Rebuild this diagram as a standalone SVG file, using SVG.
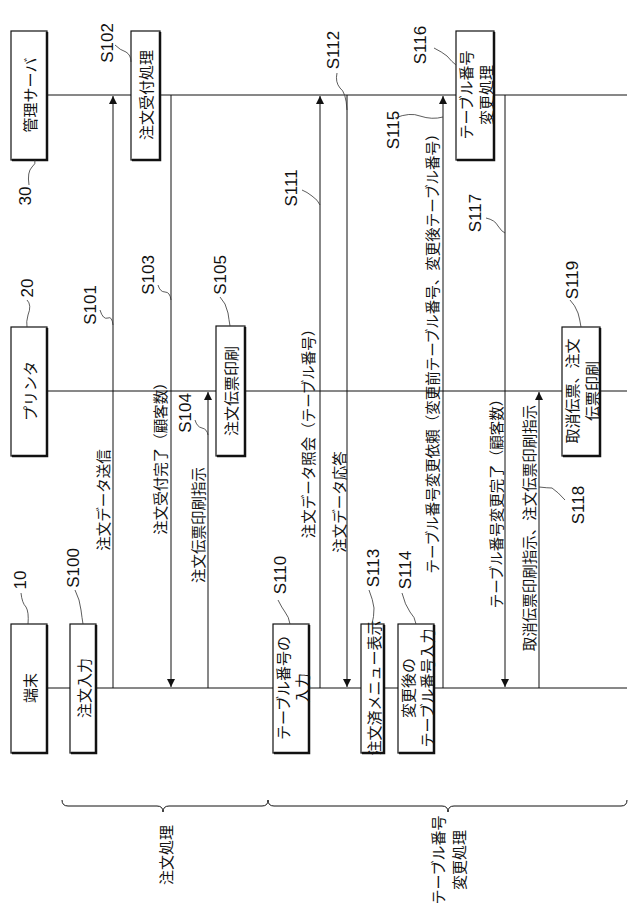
<svg xmlns="http://www.w3.org/2000/svg" width="640" height="924" viewBox="0 0 640 924">
<style>
text{font-family:"Noto Sans CJK JP","Liberation Sans",sans-serif;fill:#111;text-anchor:middle;dominant-baseline:central}
.s{font-family:"Liberation Sans",Arial,sans-serif;font-size:17px}
.b{font-size:15px}
.m{font-size:14.5px}
.box{fill:#fff;stroke:#111;stroke-width:1.2}
.sh{fill:none;stroke:#111;stroke-width:2.5}
.ln{stroke:#111;stroke-width:1;fill:none}
.ld{stroke:#333;stroke-width:0.8;fill:none}
</style>
<defs>
<marker id="ah" markerWidth="8" markerHeight="10" refX="8" refY="5" orient="auto" markerUnits="userSpaceOnUse"><path d="M0,1 L8,5 L0,9 Z" fill="#111"/></marker>
</defs>
<rect width="640" height="924" fill="#fff"/>
<g id="lifelines">
<line class="ln" x1="47" y1="95" x2="627" y2="95"/>
<line class="ln" x1="47" y1="391" x2="627" y2="391"/>
<line class="ln" x1="47" y1="688" x2="627" y2="688"/>
</g>
<g id="connectors">
<line class="ln" x1="113" y1="688" x2="113" y2="96" marker-end="url(#ah)"/>
<line class="ln" x1="171" y1="95" x2="171" y2="687" marker-end="url(#ah)"/>
<line class="ln" x1="208" y1="688" x2="208" y2="392" marker-end="url(#ah)"/>
<line class="ln" x1="320" y1="688" x2="320" y2="96" marker-end="url(#ah)"/>
<line class="ln" x1="347" y1="95" x2="347" y2="687" marker-end="url(#ah)"/>
<line class="ln" x1="443" y1="688" x2="443" y2="96" marker-end="url(#ah)"/>
<line class="ln" x1="505" y1="95" x2="505" y2="687" marker-end="url(#ah)"/>
<line class="ln" x1="539" y1="688" x2="539" y2="392" marker-end="url(#ah)"/>
<text class="m" transform="translate(102,500) rotate(-90)">注文データ送信</text>
<text class="m" transform="translate(159,455) rotate(-90)">注文受付完了（顧客数）</text>
<text class="m" transform="translate(197,525) rotate(-90)">注文伝票印刷指示</text>
<text class="m" transform="translate(307,430) rotate(-90)">注文データ照会（テーブル番号）</text>
<text class="m" transform="translate(338,502) rotate(-90)">注文データ応答</text>
<text class="m" transform="translate(431,350) rotate(-90)">テーブル番号変更依頼（変更前テーブル番号、変更後テーブル番号）</text>
<text class="m" transform="translate(495,500) rotate(-90)">テーブル番号変更完了（顧客数）</text>
<text class="m" transform="translate(528,528) rotate(-90)">取消伝票印刷指示、注文伝票印刷指示</text>
<path class="ld" d="M100,310 Q103,320 108,318 Q112,316 113,325"/>
<text class="s" transform="translate(90,305) rotate(-90)">S101</text>
<path class="ld" d="M158,285 Q160,292 165,292 Q170,292 171,300"/>
<text class="s" transform="translate(148,275) rotate(-90)">S103</text>
<path class="ld" d="M195,420 Q197,427 202,428 Q207,429 208,435"/>
<text class="s" transform="translate(185,413) rotate(-90)">S104</text>
<path class="ld" d="M302,190 Q307,192 312,196 Q318,200 320,205"/>
<text class="s" transform="translate(291,188) rotate(-90)">S111</text>
<path class="ld" d="M337,73 Q335,82 340,88 Q346,92 347,110"/>
<text class="s" transform="translate(333,50) rotate(-90)">S112</text>
<path class="ld" d="M395,118 Q410,112 420,116 Q432,120 443,117"/>
<text class="s" transform="translate(393,130) rotate(-90)">S115</text>
<path class="ld" d="M486,218 Q495,220 498,226 Q502,232 505,233"/>
<text class="s" transform="translate(475,213) rotate(-90)">S117</text>
<path class="ld" d="M539,487 Q548,488 552,488 Q558,492 565,500"/>
<text class="s" transform="translate(578,505) rotate(-90)">S118</text>
</g>
<g id="n30"><rect class="box" x="11" y="31" width="36" height="129"/><path class="sh" d="M47,32 V160 H12"/><text class="b" transform="translate(29,95) rotate(-90)">管理サーバ</text>
<path class="ld" d="M29,185 Q27,172 32,167 Q36,164 35,160"/><text class="s" transform="translate(25,196) rotate(-90)">30</text></g>
<g id="n20"><rect class="box" x="11" y="327" width="36" height="129"/><path class="sh" d="M47,328 V456 H12"/><text class="b" transform="translate(29,391) rotate(-90)">プリンタ</text>
<path class="ld" d="M27,300 Q32,305 28,315 Q26,322 27,327"/><text class="s" transform="translate(27,288) rotate(-90)">20</text></g>
<g id="n10"><rect class="box" x="11" y="624" width="36" height="129"/><path class="sh" d="M47,625 V753 H12"/><text class="b" transform="translate(29,688) rotate(-90)">端末</text>
<path class="ld" d="M21,593 Q22,603 26,607 Q29,612 28,624"/><text class="s" transform="translate(20,580) rotate(-90)">10</text></g>
<g id="S102"><rect class="box" x="131" y="31" width="29" height="129"/><path class="sh" d="M160,32 V160 H132"/><text class="b" transform="translate(145,95) rotate(-90)">注文受付処理</text>
<path class="ld" d="M115,45 Q120,50 126,52 Q131,55 131,62"/><text class="s" transform="translate(107,43) rotate(-90)">S102</text></g>
<g id="S105"><rect class="box" x="216" y="326" width="29" height="130"/><path class="sh" d="M245,327 V456 H217"/><text class="b" transform="translate(230,391) rotate(-90)">注文伝票印刷</text>
<path class="ld" d="M220,297 Q226,303 228,313 Q229,320 230,326"/><text class="s" transform="translate(220,275) rotate(-90)">S105</text></g>
<g id="S116"><rect class="box" x="456" y="31" width="38" height="129"/><path class="sh" d="M494,32 V160 H457"/><text class="b" transform="translate(465,95) rotate(-90)">テーブル番号</text><text class="b" transform="translate(485,95) rotate(-90)">変更処理</text>
<path class="ld" d="M434,48 Q442,52 447,56 Q452,62 456,65"/><text class="s" transform="translate(420,45) rotate(-90)">S116</text></g>
<g id="S119"><rect class="box" x="562" y="327" width="38" height="129"/><path class="sh" d="M600,328 V456 H563"/><text class="b" transform="translate(571,391) rotate(-90)">取消伝票、注文</text><text class="b" transform="translate(591,391) rotate(-90)">伝票印刷</text>
<path class="ld" d="M570,300 Q575,305 578,313 Q580,320 581,327"/><text class="s" transform="translate(572,280) rotate(-90)">S119</text></g>
<g id="S100"><rect class="box" x="70" y="624" width="26" height="129"/><path class="sh" d="M96,625 V753 H71"/><text class="b" transform="translate(83,688) rotate(-90)">注文入力</text>
<path class="ld" d="M75,590 Q80,600 81,610 Q82,618 83,624"/><text class="s" transform="translate(73,568) rotate(-90)">S100</text></g>
<g id="S110"><rect class="box" x="273" y="624" width="36" height="129"/><path class="sh" d="M309,625 V753 H274"/><text class="b" transform="translate(282,688) rotate(-90)">テーブル番号の</text><text class="b" transform="translate(301,688) rotate(-90)">入力</text>
<path class="ld" d="M278,600 Q282,608 285,612 Q289,617 290,624"/><text class="s" transform="translate(280,575) rotate(-90)">S110</text></g>
<g id="S113"><rect class="box" x="361" y="624" width="23" height="129"/><path class="sh" d="M384,625 V753 H362"/><text class="b" transform="translate(373,688) rotate(-90)">注文済メニュー表示</text>
<path class="ld" d="M369,590 Q373,600 374,608 Q374,617 372,624"/><text class="s" transform="translate(373,568) rotate(-90)">S113</text></g>
<g id="S114"><rect class="box" x="398" y="624" width="36" height="129"/><path class="sh" d="M434,625 V753 H399"/><text class="b" transform="translate(407,688) rotate(-90)">変更後の</text><text class="b" transform="translate(426,688) rotate(-90)">テーブル番号入力</text>
<path class="ld" d="M402,593 Q405,605 410,612 Q415,617 416,624"/><text class="s" transform="translate(405,570) rotate(-90)">S114</text></g>
<g id="braces">
<path class="ln" d="M62,800 Q62,806 68,806 L157,806 Q163,806 163,812 Q163,806 169,806 L262,806 Q268,806 268,800"/>
<path class="ln" d="M268,800 Q268,806 274,806 L442,806 Q448,806 448,812 Q448,806 454,806 L621,806 Q627,806 627,800"/>
<text class="b" transform="translate(165,855) rotate(-90)">注文処理</text>
<text class="b" transform="translate(437,860) rotate(-90)">テーブル番号</text>
<text class="b" transform="translate(458,860) rotate(-90)">変更処理</text>
</g>
</svg>
